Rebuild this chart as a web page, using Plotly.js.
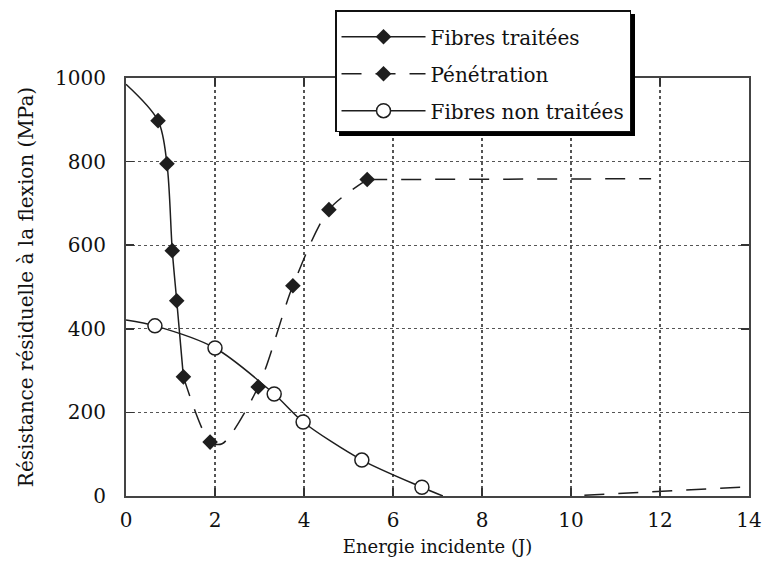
<!DOCTYPE html>
<html><head><meta charset="utf-8">
<script src="https://cdn.plot.ly/plotly-3.0.1.min.js"></script>
<style>body{margin:0;background:#fff}#chart{width:765px;height:564px}</style>
</head><body><div id="chart"></div>
<script>
// ---- data ----
const seriesNames = ['Fibres traitées', 'Pénétration', 'Fibres non traitées'];

// Fibres traitées (filled diamonds, solid)
const treatedStartX = [0];
const treatedStartY = [985];
const treatedPtsX = [0.72, 0.92, 1.04, 1.14, 1.29];
const treatedPtsY = [898, 795, 587, 467, 285];

// Pénétration (filled diamonds, dashed)
const penCurveX = [1.29, 1.89, 2.16, 2.97, 3.75, 4.56, 5.42];
const penCurveY = [285, 129, 125, 261, 503, 685, 757];
const penPtsX = [1.89, 2.97, 3.75, 4.56, 5.42];
const penPtsY = [129, 261, 503, 685, 757];
const penPlateauX = [5.42, 11.8];
const penPlateauY = [757, 759];
const penTailX = [10.3, 14];
const penTailY = [2, 22];

// Fibres non traitées (open circles, solid)
const untreatedStartX = [0];
const untreatedStartY = [421];
const untreatedPtsX = [0.65, 2.0, 3.33, 3.98, 5.30, 6.65];
const untreatedPtsY = [407, 354, 244, 177, 86, 21];
const untreatedEndX = [7.12];
const untreatedEndY = [0];

const xTicks = [0, 2, 4, 6, 8, 10, 12, 14];
const yTicks = [0, 200, 400, 600, 800, 1000];

// ---- styles ----
const ink = '#1e1e1e';
const serif = 'DejaVu Serif';
const diamond = {symbol: 'diamond', size: 12, color: ink};
const openCircle = {symbol: 'circle', size: 14, color: '#fff', line: {color: ink, width: 1.5}};
const dashStyle = '20px,14px';

const traces = [
  // legend-only entries
  {x: [null], y: [null], name: seriesNames[0], mode: 'lines+markers', legendgroup: 'a',
   line: {color: ink, width: 1.5}, marker: diamond},
  {x: [null], y: [null], name: seriesNames[1], mode: 'lines+markers', legendgroup: 'b',
   line: {color: ink, width: 1.5, dash: dashStyle}, marker: diamond},
  {x: [null], y: [null], name: seriesNames[2], mode: 'lines+markers', legendgroup: 'c',
   line: {color: ink, width: 1.5}, marker: openCircle},

  // Pénétration
  {x: penCurveX, y: penCurveY, mode: 'lines', showlegend: false,
   line: {color: ink, width: 1.5, dash: dashStyle, shape: 'spline', smoothing: 0.8}},
  {x: penPlateauX, y: penPlateauY, mode: 'lines', showlegend: false,
   line: {color: ink, width: 1.5, dash: dashStyle}},
  {x: penTailX, y: penTailY, mode: 'lines', showlegend: false,
   line: {color: ink, width: 1.5, dash: dashStyle}},
  {x: penPtsX, y: penPtsY, mode: 'markers', showlegend: false, marker: diamond},

  // Fibres traitées
  {x: treatedStartX.concat(treatedPtsX), y: treatedStartY.concat(treatedPtsY), mode: 'lines',
   showlegend: false, line: {color: ink, width: 1.5, shape: 'spline', smoothing: 0.9}},
  {x: treatedPtsX, y: treatedPtsY, mode: 'markers', showlegend: false, marker: diamond},

  // Fibres non traitées
  {x: untreatedStartX.concat(untreatedPtsX, untreatedEndX),
   y: untreatedStartY.concat(untreatedPtsY, untreatedEndY), mode: 'lines',
   showlegend: false, line: {color: ink, width: 1.5, shape: 'spline', smoothing: 0.8}},
  {x: untreatedPtsX, y: untreatedPtsY, mode: 'markers', showlegend: false, marker: openCircle}
];

const axisCommon = {
  showline: true, linecolor: '#444', linewidth: 2, mirror: 'ticks',
  ticks: 'inside', ticklen: 8, tickwidth: 1.5, tickcolor: '#333',
  showgrid: true, gridcolor: '#555', gridwidth: 1.2, griddash: 'dot',
  zeroline: false, tickfont: {family: serif, size: 20, color: '#111'}
};

const layout = {
  width: 765, height: 564,
  margin: {l: 126, r: 16, t: 78, b: 68, autoexpand: false},
  paper_bgcolor: '#fff', plot_bgcolor: '#fff',
  font: {family: serif, color: '#111'},
  showlegend: true,
  legend: {
    x: 0.3355, y: 1.1615, xanchor: 'left', yanchor: 'top',
    bgcolor: '#fff', bordercolor: '#111', borderwidth: 1.5,
    font: {family: serif, size: 20, color: '#111'},
    title: {text: ' ', font: {family: serif, size: 4}},
    traceorder: 'grouped', tracegroupgap: 8, itemwidth: 84
  },
  xaxis: Object.assign({}, axisCommon, {
    range: [0, 14], tickvals: xTicks, ticktext: xTicks.map(String),
    ticklabelstandoff: 5,
    title: {text: 'Energie incidente (J)', font: {family: serif, size: 18, color: '#111'}, standoff: 9}
  }),
  yaxis: Object.assign({}, axisCommon, {
    range: [0, 1000], tickvals: yTicks, ticktext: yTicks.map(String),
    ticklabelstandoff: 14,
    title: {text: 'Résistance résiduelle à la flexion (MPa)', font: {family: serif, size: 20, color: '#111'}, standoff: 16}
  })
};

Plotly.newPlot('chart', traces, layout, {displayModeBar: false, staticPlot: true}).then(function () {
  const bg = document.querySelector('.legend .bg');
  if (bg) {
    const sh = bg.cloneNode();
    sh.setAttribute('transform', 'translate(4,4)');
    sh.style.fill = '#000';
    sh.style.stroke = '#000';
    bg.parentNode.insertBefore(sh, bg);
  }
});
</script>
</body></html>
